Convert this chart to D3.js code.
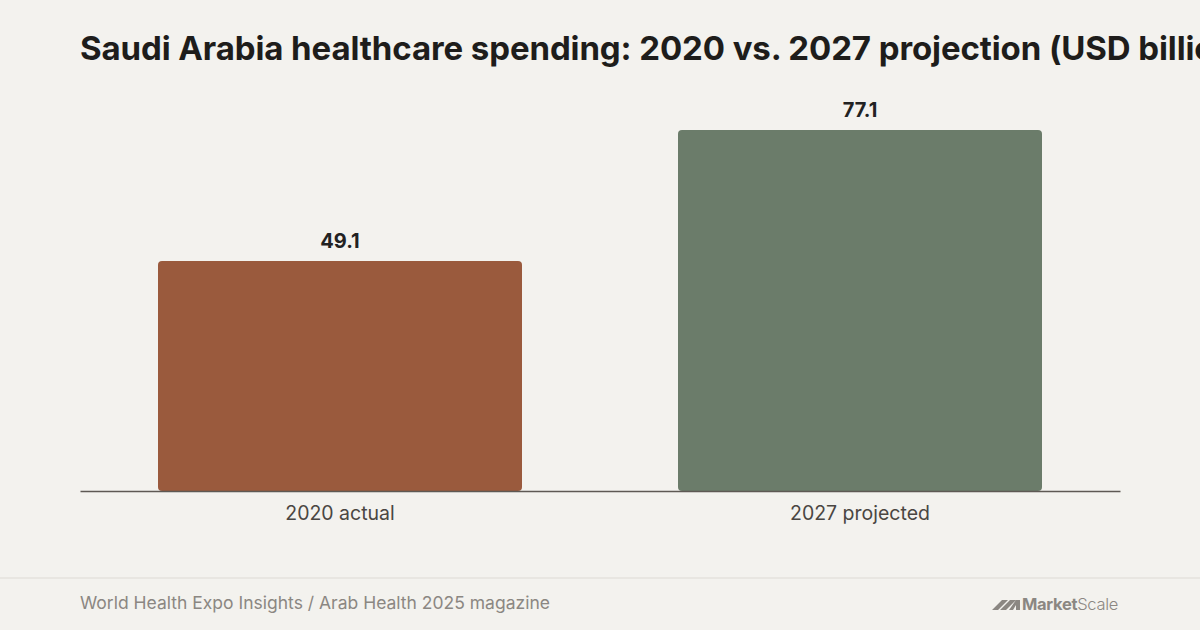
<!DOCTYPE html>
<html>
<head>
<meta charset="utf-8">
<script src="https://cdn.jsdelivr.net/npm/d3@7"></script>
<style>
  html, body { margin: 0; padding: 0; background: #f3f2ee; }
  svg { display: block; font-family: Inter, "Noto Sans", sans-serif; }
</style>
</head>
<body>
<svg id="chart"></svg>
<script>
// Chart data
const categories = ["2020 actual", "2027 projected"];
const spending = [49.1, 77.1];
const barColors = ["#9a5a3d", "#6b7c6a"];

const W = 1200, H = 630;
const svg = d3.select("#chart")
  .attr("width", W)
  .attr("height", H)
  .attr("viewBox", `0 0 ${W} ${H}`);

svg.append("rect").attr("width", W).attr("height", H).attr("fill", "#f3f2ee");

// Title (runs off the right edge like the original)
svg.append("text")
  .attr("x", 80)
  .attr("y", 60)
  .attr("font-size", "33px")
  .attr("font-weight", 700)
  .attr("fill", "#1e1d1b")
  .attr("letter-spacing", "-0.1px")
  .text("Saudi Arabia healthcare spending: 2020 vs. 2027 projection (USD billion)");

const margin = { top: 130, right: 80, bottom: 139, left: 80 };
const plotW = W - margin.left - margin.right;
const baseY = H - margin.bottom;

const x = d3.scaleBand()
  .domain(categories)
  .range([margin.left, margin.left + plotW])
  .paddingInner(0.3)
  .paddingOuter(0.15);

const y = d3.scaleLinear()
  .domain([0, d3.max(spending)])
  .range([baseY, margin.top]);

const data = categories.map((c, i) => ({ cat: c, value: spending[i], color: barColors[i] }));

// Bars
svg.selectAll(".bar")
  .data(data)
  .join("rect")
  .attr("class", "bar")
  .attr("x", d => x(d.cat))
  .attr("y", d => y(d.value))
  .attr("width", x.bandwidth())
  .attr("height", d => baseY - y(d.value))
  .attr("rx", 4)
  .attr("fill", d => d.color);

// Baseline axis
const xAxis = svg.append("g")
  .attr("transform", `translate(0,${baseY})`)
  .call(d3.axisBottom(x).tickSize(0).tickPadding(15));
xAxis.select(".domain").attr("stroke", "#5e5954").attr("stroke-width", 1.6);
xAxis.selectAll("text")
  .attr("font-size", "19.5px")
  .attr("fill", "#4a4642")
  .attr("font-family", "Inter, sans-serif");

// Value labels
svg.selectAll(".val")
  .data(data)
  .join("text")
  .attr("class", "val")
  .attr("x", d => x(d.cat) + x.bandwidth() / 2)
  .attr("y", d => y(d.value) - 13)
  .attr("text-anchor", "middle")
  .attr("font-size", "20px")
  .attr("font-weight", 700)
  .attr("fill", "#222")
  .text(d => d.value.toFixed(1));

// Footer
svg.append("line")
  .attr("x1", 0).attr("x2", W)
  .attr("y1", 578).attr("y2", 578)
  .attr("stroke", "#e4e2dd").attr("stroke-width", 1.5);

svg.append("text")
  .attr("x", 80)
  .attr("y", 609)
  .attr("font-size", "17.5px")
  .attr("fill", "#8b8782")
  .text("World Health Expo Insights / Arab Health 2025 magazine");

// MarketScale logo
const logo = svg.append("g").attr("transform", "translate(992,598)");
logo.append("path")
  .attr("d", "M0,12 L10,2 L16,2 L6,12 Z M8,12 L18,2 L24,2 L14,12 Z M17,12 L24,2 L28,2 L28,12 L24,12 L24,7 L21,12 Z")
  .attr("fill", "#8b8782");
const logoText = logo.append("text")
  .attr("x", 30)
  .attr("y", 12)
  .attr("font-size", "16.5px")
  .attr("fill", "#8b8782")
  .attr("letter-spacing", "-0.3px");
logoText.append("tspan").attr("font-weight", 700).text("Market");
logoText.append("tspan").attr("font-weight", 300).text("Scale");
</script>
</body>
</html>
